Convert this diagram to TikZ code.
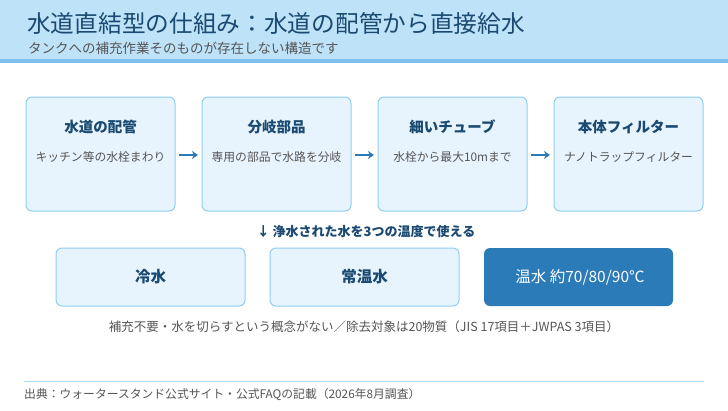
\documentclass[tikz,border=0pt]{standalone}
\usepackage{fontspec}
\usetikzlibrary{arrows.meta}
\setmainfont{Noto Sans CJK JP}
\definecolor{hdr}{HTML}{BEE3F8}
\definecolor{hdrline}{HTML}{7EC0EC}
\definecolor{ttl}{HTML}{1A4971}
\definecolor{boxf}{HTML}{E8F4FD}
\definecolor{boxd}{HTML}{90CDF4}
\definecolor{acc}{HTML}{2B7BB9}
\definecolor{gr}{HTML}{555555}
\begin{document}
\begin{tikzpicture}[x=1pt,y=-1pt,
 box/.style={draw=boxd,fill=boxf,line width=1pt,rounded corners=6pt},
 arr/.style={-{Stealth[length=6pt,width=8pt]},acc,line width=2.6pt},
 bt/.style={text=ttl,font=\fontsize{14.5}{16}\selectfont\bfseries},
 st/.style={text=gr,font=\fontsize{11.8}{13}\selectfont}]
\useasboundingbox (0,0) rectangle (728,410);
\fill[hdr] (0,0) rectangle (728,59);
\fill[hdrline] (0,59) rectangle (728,63);
\node[anchor=base west,text=ttl,inner sep=0,font=\fontsize{23.7}{26}\selectfont] (title) at (27,32) {水道直結型の仕組み：水道の配管から直接給水};
\node[anchor=base west,text=gr,inner sep=0,font=\fontsize{13.5}{15}\selectfont] (sub) at (28,53) {タンクへの補充作業そのものが存在しない構造です};
\foreach \n/\x/\t/\s in {a/26/水道の配管/キッチン等の水栓まわり,b/202/分岐部品/専用の部品で水路を分岐,c/378/細いチューブ/水栓から最大10mまで,d/554/本体フィルター/ナノトラップフィルター}{
 \draw[box] (\x,97) rectangle ++(149,114);
 \node (\n) at (\x+74.5,154) {};
 \node[bt] (\n t) at (\x+74.5,127) {\t};
 \node[st] (\n s) at (\x+74.5,157) {\s};
}
\draw[arr] (179,155) -- (198,155);
\draw[arr] (355,155) -- (374,155);
\draw[arr] (531,155) -- (550,155);
\node[text=ttl,font=\fontsize{13}{15}\selectfont\bfseries] (mid) at (366,232) {↓ 浄水された水を3つの温度で使える};
\draw[box] (56,248) rectangle (245,306);
\node[bt,font=\fontsize{15.5}{17}\selectfont\bfseries] (cold) at (150.5,277) {冷水};
\draw[box] (270,248) rectangle (459,306);
\node[bt,font=\fontsize{15.5}{17}\selectfont\bfseries] (room) at (364.5,277) {常温水};
\fill[acc,rounded corners=6pt] (484,248) rectangle (673,306);
\node[text=white,font=\fontsize{15.5}{17}\selectfont] (hot) at (580,277) {温水 約70/80/90℃};
\node[st,font=\fontsize{12.5}{14}\selectfont] (note) at (364,327) {補充不要・水を切らすという概念がない／除去対象は20物質（JIS 17項目＋JWPAS 3項目）};
\draw[boxd!70,line width=0.8pt] (24,381) -- (704,381);
\node[st,anchor=base west,inner sep=0] (src) at (24,398) {出典：ウォータースタンド公式サイト・公式FAQの記載（2026年8月調査）};
\end{tikzpicture}
\end{document}
